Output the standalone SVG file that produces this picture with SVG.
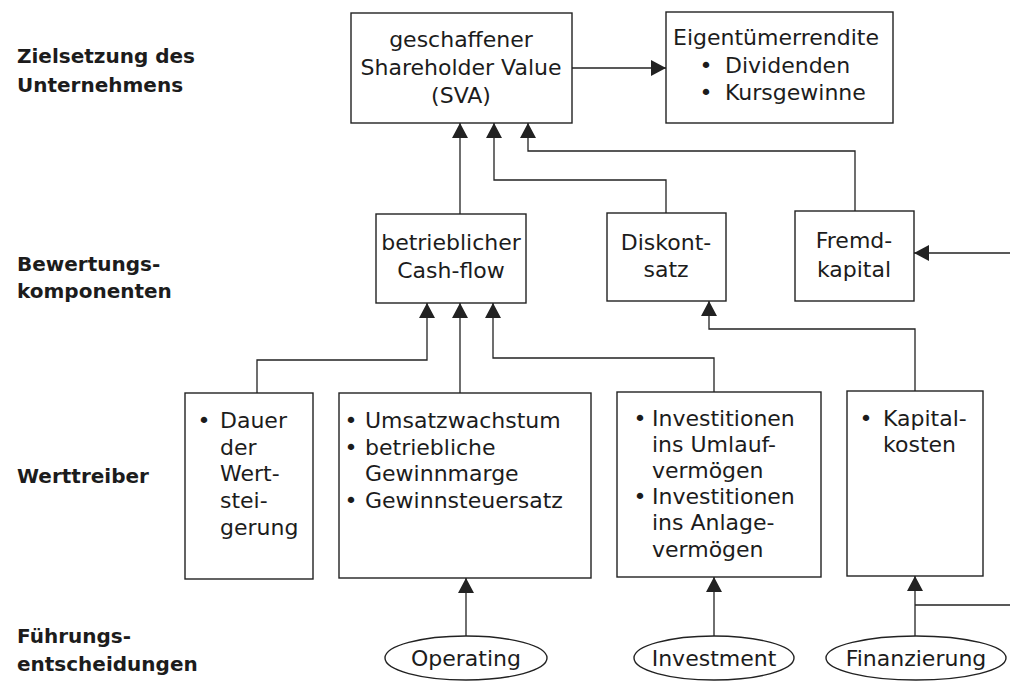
<svg xmlns="http://www.w3.org/2000/svg" width="1010" height="681" viewBox="0 0 1010 681">
<style>
.box{fill:#fff;stroke:#222;stroke-width:1.4}
.t{font-family:"DejaVu Sans","Liberation Sans",sans-serif;font-size:22px;fill:#1c1c1c}
.m{text-anchor:middle}
.lbl{font-family:"DejaVu Sans","Liberation Sans",sans-serif;font-size:20px;font-weight:bold;fill:#1c1c1c}
.c{fill:none;stroke:#222;stroke-width:1.3}
.a{marker-end:url(#arr)}
</style>
<defs>
<marker id="arr" markerUnits="userSpaceOnUse" markerWidth="15" markerHeight="16" viewBox="0 0 15 16" refX="15" refY="8" orient="auto">
<path d="M0,0 L15,8 L0,16 z" fill="#222"/>
</marker>
</defs>
<rect width="1010" height="681" fill="#fff"/>

<g id="labels">
<text class="lbl" x="17" y="63">Zielsetzung des</text>
<text class="lbl" x="17" y="92">Unternehmens</text>
<text class="lbl" x="17" y="271">Bewertungs-</text>
<text class="lbl" x="17" y="298">komponenten</text>
<text class="lbl" x="17" y="483">Werttreiber</text>
<text class="lbl" x="17" y="643">Führungs-</text>
<text class="lbl" x="17" y="671">entscheidungen</text>
</g>

<g id="connectors">
<path class="c a" d="M572,68 H666"/>
<path class="c a" d="M460,214 V123"/>
<path class="c a" d="M666,213 V180 H494 V123"/>
<path class="c a" d="M855,211 V151 H528 V123"/>
<path class="c a" d="M1010,253 H914"/>
<path class="c a" d="M257,393 V360 H427 V303"/>
<path class="c a" d="M460,393 V303"/>
<path class="c a" d="M714,392 V358 H493 V303"/>
<path class="c a" d="M915,391 V329 H709 V301"/>
<path class="c a" d="M466,636 V578"/>
<path class="c a" d="M714,636 V577"/>
<path class="c a" d="M915,636 V576"/>
<path class="c" d="M915,605 H1010"/>
</g>

<g id="sva">
<rect class="box" x="351" y="13" width="221" height="110"/>
<text class="t m" x="461" y="47">geschaffener</text>
<text class="t m" x="461" y="75">Shareholder Value</text>
<text class="t m" x="461" y="103">(SVA)</text>
</g>

<g id="eigentuemer">
<rect class="box" x="666" y="12" width="227" height="111"/>
<text class="t" x="673" y="45">Eigentümerrendite</text>
<text class="t m" x="706" y="73">•</text>
<text class="t" x="725" y="73">Dividenden</text>
<text class="t m" x="706" y="100">•</text>
<text class="t" x="725" y="100">Kursgewinne</text>
</g>

<g id="cashflow">
<rect class="box" x="376" y="214" width="150" height="89"/>
<text class="t m" x="451" y="250">betrieblicher</text>
<text class="t m" x="451" y="278">Cash-flow</text>
</g>

<g id="diskontsatz">
<rect class="box" x="607" y="213" width="119" height="88"/>
<text class="t m" x="666" y="250">Diskont-</text>
<text class="t m" x="666" y="277">satz</text>
</g>

<g id="fremdkapital">
<rect class="box" x="795" y="211" width="119" height="90"/>
<text class="t m" x="854" y="248">Fremd-</text>
<text class="t m" x="854" y="277">kapital</text>
</g>

<g id="dauer">
<rect class="box" x="185" y="393" width="128" height="186"/>
<text class="t m" x="204" y="428">•</text>
<text class="t" x="220" y="428">Dauer</text>
<text class="t" x="220" y="455">der</text>
<text class="t" x="220" y="481">Wert-</text>
<text class="t" x="220" y="508">stei-</text>
<text class="t" x="220" y="535">gerung</text>
</g>

<g id="umsatz">
<rect class="box" x="339" y="393" width="252" height="185"/>
<text class="t m" x="351" y="428">•</text>
<text class="t" x="365" y="428">Umsatzwachstum</text>
<text class="t m" x="351" y="455">•</text>
<text class="t" x="365" y="455">betriebliche</text>
<text class="t" x="365" y="481">Gewinnmarge</text>
<text class="t m" x="351" y="508">•</text>
<text class="t" x="365" y="508">Gewinnsteuersatz</text>
</g>

<g id="investitionen">
<rect class="box" x="617" y="392" width="204" height="185"/>
<text class="t m" x="640" y="426">•</text>
<text class="t" x="652" y="426">Investitionen</text>
<text class="t" x="652" y="452">ins Umlauf-</text>
<text class="t" x="652" y="478">vermögen</text>
<text class="t m" x="640" y="504">•</text>
<text class="t" x="652" y="504">Investitionen</text>
<text class="t" x="652" y="530">ins Anlage-</text>
<text class="t" x="652" y="557">vermögen</text>
</g>

<g id="kapitalkosten">
<rect class="box" x="847" y="391" width="136" height="185"/>
<text class="t m" x="866" y="426">•</text>
<text class="t" x="883" y="426">Kapital-</text>
<text class="t" x="883" y="452">kosten</text>
</g>

<g id="operating">
<ellipse class="box" cx="466" cy="658" rx="81" ry="22"/>
<text class="t m" x="466" y="666">Operating</text>
</g>

<g id="investment">
<ellipse class="box" cx="714" cy="658" rx="80" ry="22"/>
<text class="t m" x="714" y="666">Investment</text>
</g>

<g id="finanzierung">
<ellipse class="box" cx="916" cy="658" rx="90" ry="22"/>
<text class="t m" x="916" y="666">Finanzierung</text>
</g>
</svg>
